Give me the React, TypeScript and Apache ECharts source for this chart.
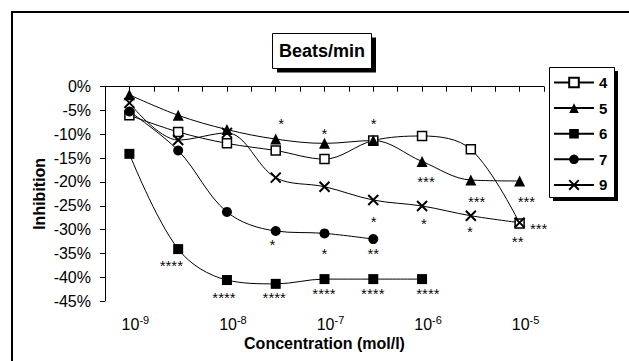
import React, { useEffect, useRef } from "react";
import * as echarts from "echarts";

// Concentrations (mol/l), evenly spaced categories
const concentrations = ["1e-9", "3e-9", "1e-8", "3e-8", "1e-7", "3e-7", "1e-6", "3e-6", "1e-5"];
// Exponent labels shown under the decades
const exponentLabels = ["-9", "", "-8", "", "-7", "", "-6", "", "-5"];
const yTicks = [0, -5, -10, -15, -20, -25, -30, -35, -40, -45];

const seriesNames = ["4", "5", "6", "7", "9"];
const s4 = [-6.0, -9.5, -11.9, -13.4, -15.2, -11.3, -10.35, -13.15, -28.7];
const s5 = [-1.7, -6.0, -9.0, -11.0, -11.9, -11.3, -15.7, -19.6, -19.8];
const s6 = [-14.1, -34.1, -40.6, -41.4, -40.4, -40.4, -40.4, null, null];
const s7 = [-5.2, -13.4, -26.3, -30.3, -30.8, -32.0, null, null, null];
const s9 = [-3.4, -11.2, -9.7, -19.1, -21.0, -23.8, -25.05, -27.1, -28.55];

// Significance marks: position (category position, value) and text
const markX = [4.11, 5.0, 6.01, 7.08, 8.12, 9.14, 9.39, 8.96, 6.01, 7.04, 7.98, 3.93, 5.0, 6.0, 1.86, 2.94, 3.97, 4.99, 5.99, 7.12];
const markY = [-7.0, -9.1, -7.0, -19.2, -23.4, -23.4, -29.2, -31.8, -27.6, -28.0, -29.7, -32.5, -34.3, -34.3, -36.95, -43.7, -43.7, -42.7, -42.7, -42.7];
const markText = ["*", "*", "*", "***", "***", "***", "***", "**", "*", "*", "*", "*", "*", "**", "****", "****", "****", "****", "****", "****"];

const FONT = "'Liberation Sans', Arial, sans-serif";

function toPairs(arr: (number | null)[]) {
  const out: [number, number][] = [];
  arr.forEach((v, i) => {
    if (v !== null) out.push([i + 1, v]);
  });
  return out;
}

export default function App() {
  const ref = useRef<HTMLDivElement>(null);
  useEffect(() => {
    if (!ref.current) return;
    const chart = echarts.init(ref.current, null, { renderer: "svg" });
    const baseLine = { color: "#000", width: 1 };
    const mk = (name: string, data: (number | null)[], symbol: string, size: number, itemStyle: any) => ({
      name,
      type: "line",
      data: toPairs(data),
      smooth: 0.35,
      symbol,
      symbolSize: size,
      showSymbol: true,
      lineStyle: baseLine,
      itemStyle,
      z: 3,
    });
    const option: any = {
      animation: false,
      textStyle: { fontFamily: FONT, color: "#000" },
      grid: { left: 105, right: 85, top: 86.7, bottom: 60, containLabel: false },
      xAxis: {
        type: "value",
        min: 0.5,
        max: 9.5,
        interval: 0.5,
        splitLine: { show: false },
        axisLine: { lineStyle: { color: "#000", width: 1 } },
        axisTick: { show: true, inside: false, length: 5, lineStyle: { color: "#000" } },
        axisLabel: {
          margin: 16,
          padding: [0, 0, 0, 12],
          formatter: (v: number) => {
            const i = Math.round(v) - 1;
            if (Math.abs(v - Math.round(v)) > 1e-6) return "";
            const e = exponentLabels[i];
            if (!e) return "";
            return "{b|10}{s|" + e + "}";
          },
          rich: {
            b: { fontSize: 16, lineHeight: 14, fontFamily: FONT, color: "#000" },
            s: { fontSize: 11, lineHeight: 11, fontFamily: FONT, color: "#000", padding: [0, 0, 8, 0] },
          },
        },
        name: "Concentration (mol/l)",
        nameLocation: "middle",
        nameGap: 34,
        nameMoveOverlap: false,
        nameTextStyle: { fontSize: 16, lineHeight: 16, fontWeight: "bold", fontFamily: FONT, color: "#000" },
      },
      yAxis: {
        type: "value",
        min: yTicks[yTicks.length - 1],
        max: yTicks[0],
        interval: 5,
        splitLine: { show: false },
        axisLine: { show: true, lineStyle: { color: "#000", width: 1 } },
        axisTick: { show: true, inside: false, length: 5, lineStyle: { color: "#000" } },
        axisLabel: { margin: 14, fontSize: 16, fontFamily: FONT, color: "#000", formatter: (v: number) => v + "%" },
        name: "Inhibition",
        nameLocation: "middle",
        nameGap: 58,
        nameRotate: 90,
        nameMoveOverlap: false,
        nameTextStyle: { fontSize: 16, fontWeight: "bold", fontFamily: FONT, color: "#000" },
      },
      legend: {
        orient: "vertical",
        left: 553,
        top: 75,
        itemWidth: 40,
        itemHeight: 12,
        itemGap: 10.6,
        padding: 0,
        data: seriesNames,
        textStyle: { fontSize: 15, fontWeight: "bold", fontFamily: FONT, color: "#000" },
      },
      graphic: [
        { type: "rect", z: 0, shape: { x: 12, y: 12, width: 700, height: 400 }, style: { fill: "none", stroke: "#000", lineWidth: 2 } },
        { type: "rect", z: 0, shape: { x: 277, y: 37.5, width: 99, height: 35 }, style: { fill: "#000" } },
        { type: "rect", z: 1, shape: { x: 272.5, y: 33.5, width: 99, height: 35 }, style: { fill: "#fff", stroke: "#000", lineWidth: 1 } },
        { type: "text", z: 2, x: 322, y: 51, style: { text: "Beats/min", font: "bold 18px " + FONT, fill: "#000", align: "center", verticalAlign: "middle" } },
        { type: "rect", z: 0, shape: { x: 553, y: 71, width: 65, height: 130 }, style: { fill: "#000" } },
        { type: "rect", z: 1, shape: { x: 549.5, y: 67.5, width: 65, height: 130 }, style: { fill: "#fff", stroke: "#000", lineWidth: 1 } },
      ],
      series: [
        mk(seriesNames[0], s4, "rect", 9, { color: "#fff", borderColor: "#000", borderWidth: 1.5 }),
        mk(seriesNames[1], s5, "triangle", 11, { color: "#000" }),
        mk(seriesNames[2], s6, "rect", 10, { color: "#000" }),
        mk(seriesNames[3], s7, "circle", 10, { color: "#000" }),
        mk(seriesNames[4], s9, "path://M0 0L10 10M10 0L0 10", 10, { color: "none", borderColor: "#000", borderWidth: 2 }),
        {
          name: "marks",
          type: "scatter",
          symbolSize: 0,
          itemStyle: { color: "#000" },
          data: markX.map((x, i) => [x, markY[i], markText[i]]),
          label: {
            show: true,
            position: "inside",
            offset: [0, 3],
            formatter: (p: any) => p.data[2],
            fontSize: 15,
            fontFamily: FONT,
            color: "#000",
            opacity: 0.99,
          },
          z: 4,
          silent: true,
        },
      ],
    };
    chart.setOption(option);
    return () => chart.dispose();
  }, []);
  return <div ref={ref} style={{ position: "fixed", left: 0, top: 0, width: 629, height: 361, background: "#fff" }} />;
}
